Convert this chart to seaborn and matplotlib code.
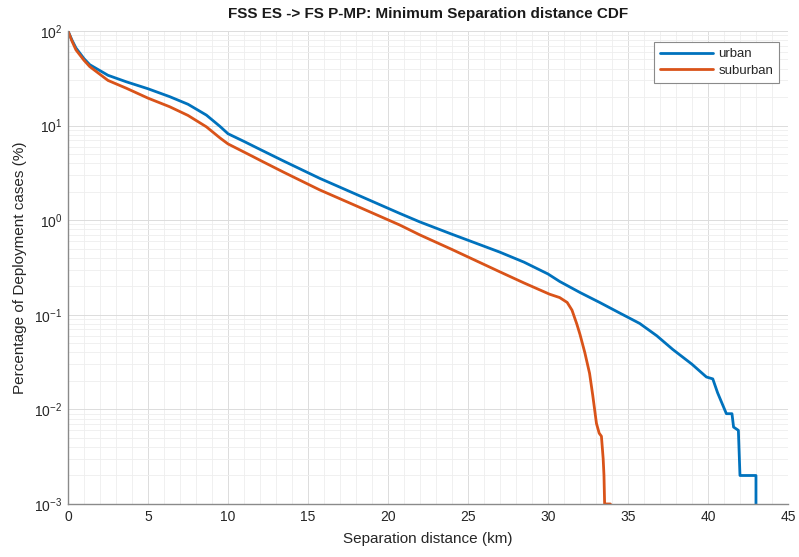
import numpy as np
import pandas as pd
import matplotlib
matplotlib.use("Agg")
import matplotlib.pyplot as plt
from matplotlib.ticker import MultipleLocator, LogLocator, NullFormatter
import seaborn as sns

# Complementary CDF of the minimum separation distance, per deployment type
urban_km = [0, 0.25, 0.5, 1.0, 1.36, 2.5, 3.65, 5.0, 6.36, 7.5, 8.65, 9.5, 10.0,
            11.0, 12.0, 13.5, 15.73, 18.0, 20.73, 21.98, 24.0, 26.98, 28.5, 30.0,
            30.73, 32.0, 33.23, 34.5, 35.73, 36.8, 37.8, 39.0, 39.9, 40.3, 40.6, 41.15,
            41.5, 41.6, 41.9, 42.0, 43.0, 43.0]
urban_pct = [100, 80, 66, 51, 44, 34, 29, 24.5, 20.2, 16.8, 12.9, 9.8, 8.2,
             6.8, 5.6, 4.2, 2.77, 1.88, 1.18, 0.96, 0.71, 0.46, 0.36, 0.27,
             0.225, 0.172, 0.135, 0.104, 0.081, 0.060, 0.043, 0.030, 0.022, 0.021, 0.015,
             0.009, 0.009, 0.0065, 0.006, 0.002, 0.002, 0.001]

suburban_km = [0, 0.25, 0.5, 1.0, 1.36, 2.5, 3.65, 5.0, 6.36, 7.5, 8.65, 9.5, 10.0,
               11.56, 12.0, 13.5, 15.73, 18.0, 20.73, 21.98, 24.0, 26.98, 28.5, 30.1,
               30.73, 31.2, 31.5, 31.8, 32.0, 32.3, 32.6, 32.8, 33.03, 33.2, 33.34, 33.45,
               33.5, 33.54, 33.9]
suburban_pct = [100, 78, 63, 49, 42, 30, 24.8, 19.5, 15.8, 12.8, 9.7, 7.4, 6.4,
                4.7, 4.3, 3.2, 2.09, 1.42, 0.89, 0.70, 0.49, 0.285, 0.217, 0.165,
                0.152, 0.135, 0.112, 0.08, 0.062, 0.040, 0.024, 0.014, 0.0071, 0.0056, 0.0052,
                0.003, 0.002, 0.001, 0.001]

series_names = ["urban", "suburban"]
series_colors = ["#0072BD", "#D95319"]

df = pd.concat([
    pd.DataFrame({"km": urban_km, "pct": urban_pct, "type": "urban"}),
    pd.DataFrame({"km": suburban_km, "pct": suburban_pct, "type": "suburban"}),
], ignore_index=True)

sns.set_theme(style="white")
plt.rcParams["font.family"] = ["Liberation Sans", "DejaVu Sans"]
plt.rcParams["mathtext.fontset"] = "custom"
plt.rcParams["mathtext.rm"] = "Liberation Sans"

fig = plt.figure(figsize=(7.99, 5.57), dpi=100)
ax = fig.add_axes([0.0851, 0.0952, 0.9011, 0.8492])

sns.lineplot(data=df, x="km", y="pct", hue="type", hue_order=series_names,
             palette=series_colors, estimator=None, sort=False, linewidth=2.0,
             ax=ax)

ax.set_yscale("log")
ax.set_xlim(0, 45)
ax.set_ylim(1e-3, 1e2)
ax.xaxis.set_major_locator(MultipleLocator(5))
ax.xaxis.set_minor_locator(MultipleLocator(1))
ax.yaxis.set_major_locator(LogLocator(base=10, numticks=10))
ax.yaxis.set_minor_locator(LogLocator(base=10, subs=np.arange(2, 10), numticks=20))
ax.yaxis.set_minor_formatter(NullFormatter())

ax.grid(True, which="major", color="#dcdcdc", linewidth=0.7)
ax.grid(True, which="minor", color="#eeeeee", linewidth=0.6)
ax.set_axisbelow(True)

for side in ("top", "right"):
    ax.spines[side].set_visible(False)
for side in ("left", "bottom"):
    ax.spines[side].set_color("#8a8a8a")
    ax.spines[side].set_linewidth(1.0)

ax.tick_params(axis="both", which="major", direction="in", length=5, width=0.8,
               color="#8a8a8a", labelsize=10, labelcolor="#262626", pad=4)
ax.tick_params(axis="y", which="minor", direction="in", length=3, width=0.6,
               color="#8a8a8a")
ax.tick_params(axis="x", which="minor", length=0)

ax.set_xlabel("Separation distance (km)", fontsize=11, color="#262626", labelpad=6)
ax.set_ylabel("Percentage of Deployment cases (%)", fontsize=11, color="#262626",
              labelpad=5)
ax.set_title("FSS ES -> FS P-MP: Minimum Separation distance CDF", fontsize=11,
             fontweight="bold", color="#1a1a1a", pad=9)

leg = ax.legend(loc="upper right", bbox_to_anchor=(0.9875, 0.976), borderaxespad=0,
                fontsize=9.5, frameon=True, fancybox=False, framealpha=1,
                edgecolor="#8a8a8a", handlelength=4.0, handletextpad=0.4,
                borderpad=0.45, labelspacing=0.3)
leg.get_frame().set_linewidth(0.8)
for line in leg.get_lines():
    line.set_linewidth(2.0)

fig.savefig("out.png", dpi=100, facecolor="white")
